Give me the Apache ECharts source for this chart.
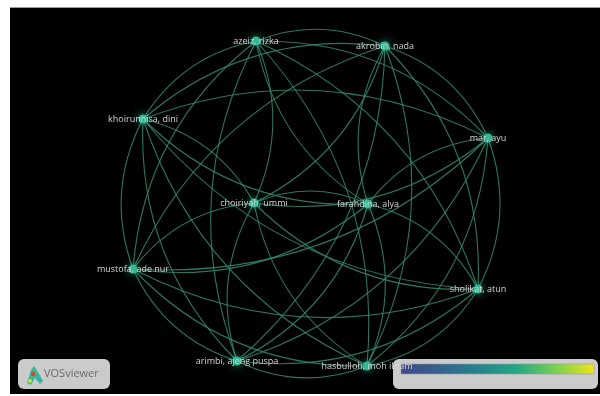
<!DOCTYPE html>
<html>
<head>
<meta charset="utf-8">
<script src="https://cdn.jsdelivr.net/npm/echarts@6/dist/echarts.min.js"></script>
<style>
html,body{margin:0;padding:0;background:#ffffff;}
#c{width:600px;height:396px;}
</style>
</head>
<body>
<div id="c"></div>
<script>
// Author names (nodes)
var authors = ["azeiz, rizka","akrobin, nada","mar, ayu","sholikat, atun","hasbulloh, moh ilham","arimbi, ajeng puspa","mustofa, ade nur","khoirunnisa, dini","choiriyah, ummi","farahdina, alya"];
// Map coordinates of nodes (VOSviewer map units)
var mapX = [246, 375, 478, 468, 357, 227, 123, 133, 244, 358];
var mapY = [353, 348, 256, 105, 28, 33, 125, 275, 191, 190];
// Co-authorship links: [source, target]
var links = [
  [0,1],[1,2],[2,3],[3,4],[4,5],[5,6],[6,7],[7,0],
  [0,2],[1,3],[2,4],[3,5],[4,6],[5,7],[6,0],[7,1],
  [0,3],[1,4],[2,5],[3,6],[4,7],[5,0],[6,1],[7,2],
  [0,4],[1,5],[2,6],[3,7],
  [0,8],[1,8],[2,8],[3,8],[4,8],[5,8],[6,8],[7,8],
  [9,0],[9,1],[9,2],[9,3],[9,4],[9,5],[9,6],[9,7],
  [8,9]
];

var chart = echarts.init(document.getElementById('c'), null, {renderer:'canvas'});
var nodes = authors.map(function(n,i){ return {name:n, value:[mapX[i], mapY[i]]}; });
var edges = links.map(function(p){ return {source:p[0], target:p[1]}; });

chart.setOption({
  animation:false,
  backgroundColor:'#ffffff',
  graphic:[
    {type:'rect', z:-10, shape:{x:10,y:7,width:590,height:1}, style:{fill:'#9a9a9a'}},
    {type:'rect', z:-10, shape:{x:10,y:8,width:590,height:386}, style:{fill:'#000000'}},
    {type:'group', z:100, children:[
      {type:'rect', shape:{x:18,y:359,width:92,height:30,r:6}, style:{fill:'#cbcbcb'}},
      {type:'polygon', shape:{points:[[27,383],[31,370],[34,366],[38,372],[43,381],[40,384],[35,378],[31,385]]}, style:{fill:'#39b6a0'}},
      {type:'circle', shape:{cx:33,cy:374,r:2.2}, style:{fill:'#d84a1a'}},
      {type:'circle', shape:{cx:30,cy:381,r:2}, style:{fill:'#cfe03a'}},
      {type:'text', style:{x:44,y:374,text:'VOSviewer',fill:'#6a6a6a',font:'11px "Open Sans", sans-serif',verticalAlign:'middle'}},
      {type:'rect', shape:{x:393,y:359,width:205,height:30,r:6}, style:{fill:'#cbcbcb'}},
      {type:'rect', shape:{x:401,y:364,width:193,height:10}, style:{
        stroke:'#9a9a9a', lineWidth:0.6,
        fill:{type:'linear',x:0,y:0,x2:1,y2:0,colorStops:[
          {offset:0,color:'#3f4a8a'},
          {offset:0.2,color:'#34618d'},
          {offset:0.4,color:'#26838e'},
          {offset:0.6,color:'#22a884'},
          {offset:0.8,color:'#7ad151'},
          {offset:1,color:'#f2e41b'}]}}}
    ]}
  ],
  grid:{left:10,right:0,top:8,bottom:2,show:false},
  xAxis:{type:'value',min:0,max:590,show:false},
  yAxis:{type:'value',min:0,max:386,show:false},
  series:[{
    type:'graph',
    coordinateSystem:'cartesian2d',
    layout:'none',
    symbol:'circle',
    symbolSize:9,
    z:10,
    data:nodes,
    links:edges,
    itemStyle:{color:'#2fb893', shadowBlur:8, shadowColor:'rgba(70,220,170,0.7)'},
    lineStyle:{color:'#348a6f', width:1.1, opacity:0.85, curveness:0.22},
    label:{show:true, position:'inside', color:'#d4d4d4', fontSize:9, fontFamily:'"Open Sans", sans-serif'},
    emphasis:{disabled:true}
  }]
});
</script>
</body>
</html>
